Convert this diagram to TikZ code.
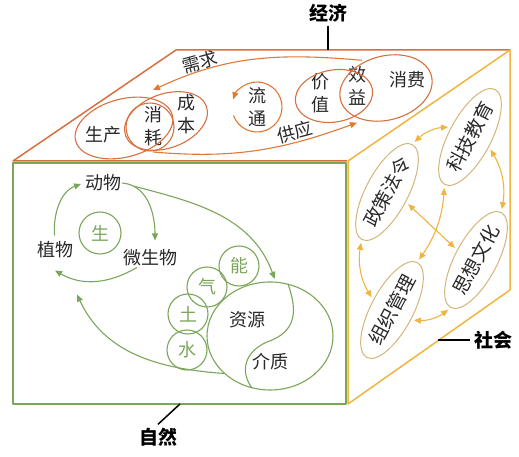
\documentclass[tikz,border=0pt]{standalone}
\usepackage{fontspec}
\setmainfont{Noto Sans CJK SC}
\usetikzlibrary{shapes.geometric,arrows.meta}
\definecolor{ecoline}{RGB}{214,112,64}
\definecolor{ecoarrow}{RGB}{226,120,52}
\definecolor{socline}{RGB}{240,180,64}
\definecolor{socring}{RGB}{212,180,120}
\definecolor{natline}{RGB}{122,166,90}
\definecolor{textgray}{RGB}{40,40,40}

\begin{document}
\begin{tikzpicture}[
  x=1pt, y=1pt,
  font=\fontsize{18}{23}\selectfont,
  >={Triangle[length=7pt,width=6pt]},
  every node/.style={text=textgray},
  face/.style={line width=1.5pt, line join=round},
  word/.style={inner sep=1pt, align=center},
  ring/.style={draw=ecoline, line width=1.1pt},
  ecoflow/.style={->, draw=ecoarrow, line width=1.1pt},
  socbox/.style={draw=socring, line width=1pt, ellipse, minimum width=98pt,
    minimum height=42pt, inner sep=0pt, rotate=62, font=\fontsize{19}{23}\selectfont},
  socflow/.style={<->, draw=socline, line width=1.1pt, shorten <=3pt, shorten >=3pt},
  natcirc/.style={draw=natline, line width=1.1pt, circle, minimum size=40pt,
    inner sep=0pt, text=natline},
  natflow/.style={->, draw=natline, line width=1.1pt},
  tag/.style={font=\fontsize{19}{20}\selectfont\bfseries, text=black}]
\useasboundingbox (0,0) rectangle (519,457);

% the three faces
\draw[face, draw=natline] (13,53) rectangle (346,294);
\draw[face, draw=ecoline] (347,296) -- (13,296) -- (176,407) -- (510,407);
\draw[face, draw=socline] (348,53) -- (348,296) -- (510,407) -- (510,167) -- cycle;

% face labels
\node[tag] (jj) at (328,444) {经济};
\coordinate (jjfoot) at (328,407);
\draw[line width=1.5pt] (jj.south) -- (jjfoot);
\node[tag] (sh) at (493,117) {社会};
\coordinate (shfoot) at (438,117);
\draw[line width=1.5pt] (shfoot) -- (sh.west);
\node[tag] (zr) at (158,20) {自然};
\coordinate (zrfoot) at (180,53);
\draw[line width=1.5pt] (zrfoot) -- (zr.north);

% economy (top)
\node[word] (sc) at (103,322) {生产};
\node[word] (xh) at (153,331) {消\\耗};
\node[word] (cb) at (186,343) {成\\本};
\draw[ring, rotate around={15:(124,329)}] (124,329) ellipse [x radius=50, y radius=29];
\draw[ring] (150,330) circle [radius=24];
\draw[ring, rotate around={20:(166,336)}] (166,336) ellipse [x radius=43, y radius=27];
\node[word] (lt) at (257,350) {流\\通};
\draw[ecoflow] ([shift={(200:25)}]lt.center) arc [start angle=200, end angle=522, radius=25];
\node[word] (jz) at (320,364) {价\\值};
\node[word] (xy) at (357,371) {效\\益};
\node[word] (xf) at (407,377) {消费};
\draw[ring, rotate around={10:(334,361)}] (334,361) ellipse [x radius=39, y radius=26];
\draw[ring, rotate around={15:(386,369)}] (386,369) ellipse [x radius=47, y radius=32];
\node[word, rotate=15] (xq) at (200,395) {需求};
\node[word, rotate=15] (gy) at (295,325) {供应};
\draw[ecoflow] ([shift={(5,5)}]xy.north) to[out=175, in=25] ([yshift=15]xh.north);
\draw[ecoflow] ([yshift=-5]xh.south) to[out=-5, in=200] ([yshift=-16]xy.south);

% society (right)
\node[socbox] (kj) at (470,320) {科技教育};
\node[socbox] (zc) at (387,265) {政策法令};
\node[socbox] (sx) at (476,197) {思想文化};
\node[socbox] (zz) at (392,147) {组织管理};
\draw[socflow] (zc.east) to[bend left=20] (kj.north);
\draw[socflow] (kj.south) to[bend left=20] (sx.east);
\draw[socflow] (zc.west) to[bend right=20] (zz.north);
\draw[socflow] (zz.south) to[bend right=20] (sx.west);
\draw[socflow] (zc.south) -- (sx.north);
\draw[socflow] (kj.west) to[bend left=15] (zz.east);

% nature (front)
\node[word] (dw) at (103,274) {动物};
\node[word] (zw) at (55,207) {植物};
\node[word] (wsw) at (150,199) {微生物};
\node[natcirc, minimum size=42pt] (sheng) at (100,224) {生};
\node[natcirc] (shui) at (187,107) {水};
\node[natcirc] (tu) at (188,143) {土};
\node[natcirc] (qi) at (207,170) {气};
\node[natcirc] (neng) at (239,191) {能};
\node[draw=natline, line width=1.1pt, ellipse, minimum width=126pt,
  minimum height=108pt] (zy) at (270,121) {};
\node[word] (zyuan) at (247,137) {资源};
\node[word] (jzh) at (270,95) {介质};
\draw[natline, line width=1.1pt] (288,173) .. controls (298,145) and (296,125) .. (267,115)
  .. controls (244,105) and (240,85) .. (252,69);
\draw[natflow, shorten <=5pt, shorten >=3pt] (zw.north) to[out=95, in=200] (dw.west);
\draw[natflow, shorten >=8pt] (dw.east) to[out=-5, in=90] ([xshift=5]wsw.north);
\draw[natflow] ([xshift=-13]wsw.south) to[out=210, in=-30] ([yshift=-11]zw.south);
\draw[natflow, shorten <=12pt, shorten >=3pt] (dw.east) to[out=-15, in=110] (zy.84);
\draw[natflow] (zy.219) to[out=176, in=-65] ([shift={(22,-35)}]zw.south);
\end{tikzpicture}
\end{document}
